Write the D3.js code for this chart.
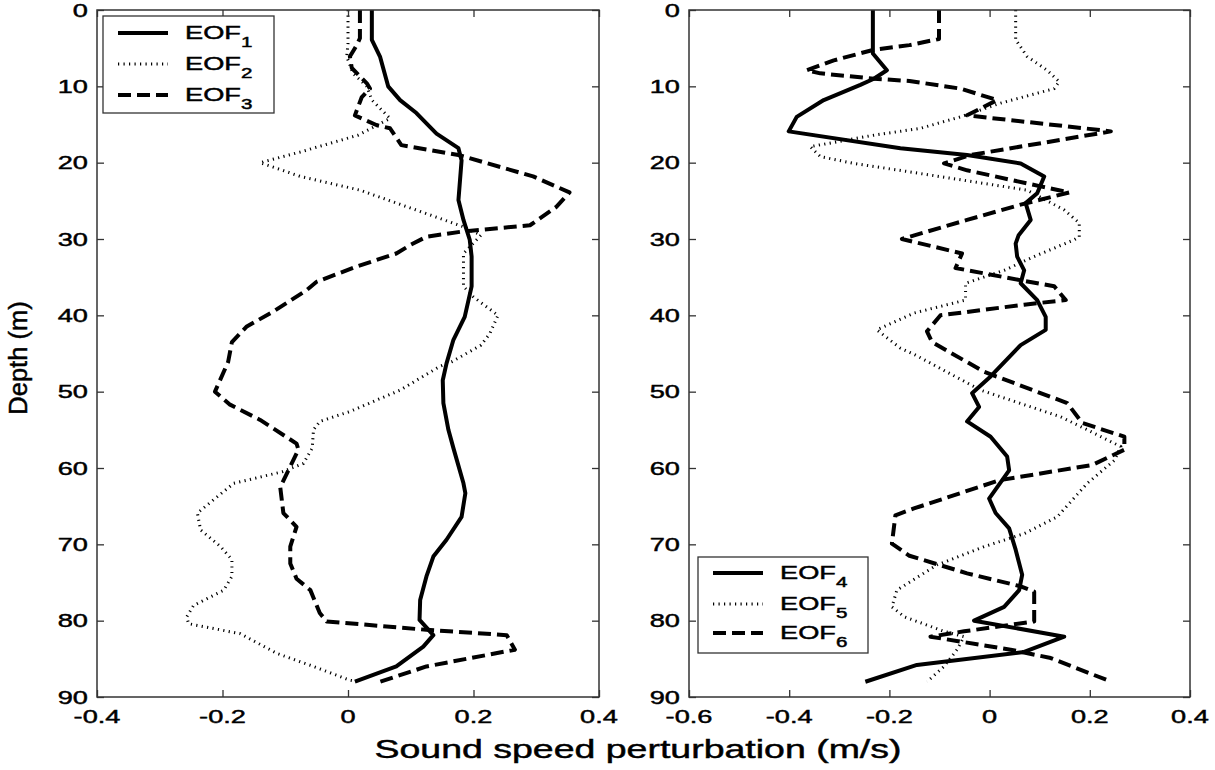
<!DOCTYPE html>
<html>
<head>
<meta charset="utf-8">
<script src="https://cdn.jsdelivr.net/npm/d3@7"></script>
<style>
  body { margin: 0; background: #fff; }
  text { font-family: "Liberation Sans", Arial, sans-serif; fill: #000; stroke: #000; stroke-width: 0.45px; }
</style>
</head>
<body>
<script>
// tick values
let depthTicks = [0, 10, 20, 30, 40, 50, 60, 70, 80, 90];
let leftTicks = [-0.4, -0.2, 0, 0.2, 0.4];
let rightTicks = [-0.6, -0.4, -0.2, 0, 0.2, 0.4];

// EOF 1-3 (left panel), depth in m, value in m/s
let eof1Depth = [0, 3.9, 6.1, 10, 11.8, 13.5, 16.2, 18.1, 19.7, 24.9, 27.5, 30.1, 32.3, 36.2, 40.2, 43.2, 46.3, 48.5, 51.5, 55, 57.4, 62, 63.3, 66.4, 69.4, 71.6, 74.2, 77.3, 79.9, 81.9, 83.4, 86, 88];
let eof1Value = [0.038, 0.038, 0.051, 0.064, 0.083, 0.109, 0.141, 0.176, 0.181, 0.176, 0.184, 0.194, 0.197, 0.197, 0.186, 0.168, 0.157, 0.151, 0.152, 0.160, 0.168, 0.184, 0.187, 0.181, 0.157, 0.136, 0.125, 0.115, 0.114, 0.136, 0.120, 0.077, 0.011];

let eof2Depth = [0, 4.4, 6.1, 8.3, 10, 11.8, 14.2, 16.4, 18.6, 20, 21.8, 23.6, 28.4, 29.5, 31.9, 36.2, 37.6, 40, 42.4, 43.9, 46.1, 46.7, 49.8, 52.6, 53.9, 55, 57.4, 59.4, 60.5, 62, 65.9, 68.1, 70.3, 72, 74.2, 76, 78, 79.5, 80.4, 81.7, 84.3, 86, 87.8, 88];
let eof2Value = [0.0, 0.0, -0.002, 0.008, 0.03, 0.038, 0.067, 0.016, -0.076, -0.14, -0.076, 0.019, 0.184, 0.212, 0.184, 0.184, 0.2, 0.239, 0.226, 0.212, 0.165, 0.146, 0.083, 0.003, -0.045, -0.055, -0.057, -0.071, -0.105, -0.182, -0.24, -0.235, -0.203, -0.185, -0.185, -0.198, -0.246, -0.257, -0.254, -0.172, -0.113, -0.055, 0.003, 0.016];

let eof3Depth = [0, 3.7, 4.6, 6.1, 7.6, 9.6, 10.3, 11.4, 13.8, 15.1, 15.5, 17.7, 19, 21.8, 23.9, 25.8, 28.2, 29.0, 29.7, 30.8, 31.9, 33.6, 35.6, 36.7, 39.5, 41.5, 43.5, 46.1, 50, 51.7, 53.7, 56.8, 57.6, 59.8, 62.5, 65.9, 67.7, 70.3, 72.5, 74.5, 76, 79, 80.1, 81.2, 81.9, 83.8, 86, 88];
let eof3Value = [0.019, 0.019, 0.014, 0.003, 0.006, 0.03, 0.035, 0.022, 0.011, 0.046, 0.067, 0.085, 0.176, 0.295, 0.353, 0.332, 0.29, 0.184, 0.125, 0.099, 0.077, 0.014, -0.05, -0.066, -0.119, -0.162, -0.185, -0.191, -0.212, -0.188, -0.14, -0.082, -0.079, -0.092, -0.108, -0.103, -0.082, -0.092, -0.092, -0.082, -0.06, -0.045, -0.034, 0.125, 0.253, 0.266, 0.125, 0.051];

// EOF 4-6 (right panel)
let eof4Depth = [0, 5.7, 7.9, 9, 9.8, 11.8, 14, 15.9, 18.1, 19, 20.1, 21.8, 24, 25.3, 27.5, 29.5, 30.6, 32.3, 34.1, 35.8, 38, 40.2, 41.9, 43.9, 48, 50.2, 52, 53.9, 55.9, 58.5, 60.3, 64, 65.9, 67.9, 70.7, 74, 76, 78.2, 80, 82.1, 84.1, 85.8, 88];
let eof4Value = [-0.233, -0.233, -0.205, -0.231, -0.258, -0.331, -0.385, -0.401, -0.178, -0.045, 0.062, 0.109, 0.095, 0.072, 0.082, 0.058, 0.052, 0.055, 0.069, 0.062, 0.095, 0.112, 0.112, 0.062, 0.002, -0.035, -0.021, -0.045, 0.002, 0.035, 0.039, -0.001, 0.012, 0.039, 0.052, 0.065, 0.059, 0.029, -0.031, 0.149, 0.069, -0.145, -0.248];

let eof5Depth = [0, 3.9, 6.1, 7.9, 9.4, 10.3, 12.2, 14, 15.5, 16.4, 17.9, 19.2, 20.1, 21.2, 23.6, 26.2, 27.9, 29.7, 30.1, 32.3, 34.1, 35.8, 38, 39.7, 41.9, 44.3, 45.2, 49.8, 53.3, 55, 57.2, 59, 62, 66.4, 68.6, 70.3, 72.7, 76, 78.2, 79.5, 81.4, 82.1, 83.8, 86, 88];
let eof5Value = [0.052, 0.052, 0.075, 0.115, 0.139, 0.129, 0.022, -0.058, -0.138, -0.231, -0.358, -0.338, -0.271, -0.16, 0.075, 0.149, 0.179, 0.179, 0.169, 0.089, 0.029, -0.048, -0.048, -0.151, -0.225, -0.178, -0.148, -0.018, 0.142, 0.195, 0.262, 0.249, 0.195, 0.135, 0.069, -0.011, -0.105, -0.185, -0.195, -0.17, -0.091, -0.051, -0.065, -0.091, -0.125];

let eof6Depth = [0, 3.8, 4.6, 5.2, 6.6, 7.9, 8.3, 9, 9.3, 10.3, 11.8, 12.9, 13.8, 15.5, 15.9, 19, 20.1, 21, 23.1, 23.9, 25.5, 27.5, 30, 31.9, 33.8, 35.4, 36.2, 38, 38.6, 40, 42.1, 43.5, 47.4, 51.5, 54.1, 55.9, 57.6, 59.6, 61.6, 65.3, 66.2, 69.9, 71.5, 73.8, 75.5, 76.2, 80.1, 81.4, 82.1, 83.8, 84.9, 87.8];
let eof6Value = [-0.101, -0.101, -0.16, -0.231, -0.311, -0.365, -0.338, -0.231, -0.16, -0.058, 0.015, -0.018, -0.045, 0.189, 0.242, -0.038, -0.091, -0.045, 0.102, 0.159, 0.062, -0.045, -0.175, -0.055, -0.068, 0.062, 0.129, 0.152, 0.069, -0.098, -0.125, -0.115, -0.011, 0.155, 0.185, 0.269, 0.269, 0.205, 0.02, -0.151, -0.188, -0.195, -0.16, -0.045, 0.062, 0.089, 0.089, -0.051, -0.118, 0.042, 0.122, 0.235];

// text in the original is stretched sideways
let SX = 1.47;
let tickFont = 18.5;
let titleFont = 25.5;

// line styles
let styles = {
  solid:  {width: 4,   dash: null},
  dotted: {width: 3,   dash: "1.2,4.3"},
  dashed: {width: 4,   dash: "13,6"}
};

let svg = d3.select("body").append("svg")
    .attr("width", 1215)
    .attr("height", 770);

let plotTop = 10, plotBottom = 697;
let yScale = d3.scaleLinear().domain([0, 90]).range([plotTop, plotBottom]);

function panel(x0, x1, xDomain, xTicks, series, legend) {
  let xScale = d3.scaleLinear().domain(xDomain).range([x0, x1]);
  let g = svg.append("g");

  // curves
  let line = d3.line()
      .x(d => xScale(d[1]))
      .y(d => yScale(d[0]));
  series.forEach(function(s) {
    let st = styles[s.style];
    g.append("path")
        .datum(d3.zip(s.depth, s.value))
        .attr("fill", "none")
        .attr("stroke", "#000")
        .attr("stroke-width", st.width)
        .attr("stroke-dasharray", st.dash)
        .attr("stroke-linejoin", "round")
        .attr("d", line);
  });

  // axes, ticks pointing inward on all four sides
  let ax = g.append("g").attr("class", "axes");
  ax.append("g").attr("transform", "translate(" + x0 + ",0)")
      .call(d3.axisLeft(yScale).tickValues(depthTicks).tickSize(-7).tickFormat(""));
  ax.append("g").attr("transform", "translate(" + x1 + ",0)")
      .call(d3.axisRight(yScale).tickValues(depthTicks).tickSize(-7).tickFormat(""));
  ax.append("g").attr("transform", "translate(0," + plotBottom + ")")
      .call(d3.axisBottom(xScale).tickValues(xTicks).tickSize(-7).tickFormat(""));
  ax.append("g").attr("transform", "translate(0," + plotTop + ")")
      .call(d3.axisTop(xScale).tickValues(xTicks).tickSize(-7).tickFormat(""));
  ax.selectAll(".domain").remove();
  ax.selectAll("line").attr("stroke", "#333").attr("stroke-width", 1.3);
  g.append("rect")
      .attr("x", x0).attr("y", plotTop)
      .attr("width", x1 - x0).attr("height", plotBottom - plotTop)
      .attr("fill", "none").attr("stroke", "#333").attr("stroke-width", 1.5);

  // tick labels
  g.selectAll(".ylab").data(depthTicks).enter().append("text")
      .attr("transform", d => "translate(" + (x0 - 9) + "," + yScale(d) + ") scale(" + SX + ",1)")
      .attr("dy", "0.36em")
      .attr("text-anchor", "end")
      .attr("font-size", tickFont)
      .text(d => d);
  g.selectAll(".xlab").data(xTicks).enter().append("text")
      .attr("transform", d => "translate(" + xScale(d) + "," + (plotBottom + 26) + ") scale(" + SX + ",1)")
      .attr("text-anchor", "middle")
      .attr("font-size", tickFont)
      .text(d => String(d));

  // legend
  let lg = g.append("g");
  lg.append("rect")
      .attr("x", legend.x).attr("y", legend.y)
      .attr("width", legend.w).attr("height", legend.h)
      .attr("fill", "#fff").attr("stroke", "#333").attr("stroke-width", 1.3);
  series.forEach(function(s, i) {
    let st = styles[s.style];
    let ly = legend.rows[i];
    lg.append("line")
        .attr("x1", legend.x + 15).attr("x2", legend.x + 65)
        .attr("y1", ly).attr("y2", ly)
        .attr("stroke", "#000")
        .attr("stroke-width", st.width)
        .attr("stroke-dasharray", st.dash);
    let t = lg.append("text")
        .attr("transform", "translate(" + (legend.x + 82) + "," + (ly + 6) + ") scale(" + SX + ",1)")
        .attr("font-size", tickFont);
    t.append("tspan").text("EOF");
    t.append("tspan").attr("dy", 8).attr("font-size", 14).text(s.name);
  });
}

panel(97, 599, [-0.4, 0.4], leftTicks, [
  {name: "1", style: "solid",  depth: eof1Depth, value: eof1Value},
  {name: "2", style: "dotted", depth: eof2Depth, value: eof2Value},
  {name: "3", style: "dashed", depth: eof3Depth, value: eof3Value}
], {x: 103, y: 16, w: 171, h: 97, rows: [33, 64, 95]});

panel(689, 1190, [-0.6, 0.4], rightTicks, [
  {name: "4", style: "solid",  depth: eof4Depth, value: eof4Value},
  {name: "5", style: "dotted", depth: eof5Depth, value: eof5Value},
  {name: "6", style: "dashed", depth: eof6Depth, value: eof6Value}
], {x: 698, y: 557, w: 170, h: 96, rows: [573, 604, 633]});

// axis titles
svg.append("text")
    .attr("transform", "translate(638,758) scale(" + SX + ",1)")
    .attr("text-anchor", "middle")
    .attr("font-size", titleFont)
    .text("Sound speed perturbation (m/s)");

svg.append("text")
    .attr("transform", "translate(27,358) rotate(-90)")
    .attr("text-anchor", "middle")
    .attr("font-size", titleFont)
    .text("Depth (m)");
</script>
</body>
</html>
